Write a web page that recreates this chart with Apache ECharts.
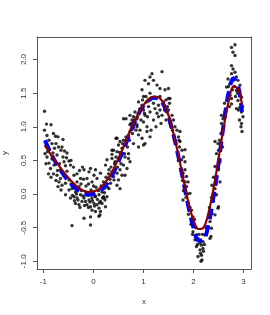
<!DOCTYPE html>
<html>
<head>
<meta charset="utf-8">
<script src="https://cdn.jsdelivr.net/npm/echarts@6/dist/echarts.min.js"></script>
<style>html,body{margin:0;padding:0;background:#fff;}#c{width:270px;height:315px;}</style>
</head>
<body>
<div id="c"></div>
<script>
// x / y tick positions
const xTicks = [-1, 0, 1, 2, 3];
const yTicks = [-1, -0.5, 0, 0.5, 1, 1.5, 2];

// curves: x grid, true function (blue dashed), fitted (dark red)
const curveX = [-0.97,-0.9,-0.8,-0.7,-0.6,-0.5,-0.4,-0.3,-0.2,-0.1,0,0.1,0.2,0.3,0.4,0.5,0.6,0.7,0.8,0.9,1.0,1.1,1.2,1.3,1.4,1.5,1.6,1.7,1.8,1.9,2.0,2.1,2.2,2.3,2.4,2.5,2.6,2.7,2.8,2.9,2.97];
const trueY = [0.80,0.68,0.53,0.40,0.29,0.19,0.11,0.05,0.01,-0.01,0.0,0.03,0.09,0.19,0.32,0.48,0.66,0.85,1.03,1.19,1.31,1.39,1.43,1.42,1.33,1.15,0.88,0.55,0.18,-0.19,-0.50,-0.69,-0.68,-0.45,-0.04,0.45,1.02,1.50,1.72,1.58,1.22];
const fitY  = [0.72,0.64,0.53,0.43,0.33,0.24,0.16,0.09,0.05,0.03,0.04,0.07,0.14,0.24,0.37,0.53,0.70,0.88,1.05,1.20,1.32,1.41,1.45,1.44,1.35,1.17,0.90,0.57,0.21,-0.13,-0.39,-0.52,-0.50,-0.28,0.08,0.52,0.98,1.37,1.60,1.55,1.32];

// observed points [x, y]
const points = [
[-0.98,1.23],[-0.94,1.04],[-0.85,1.03],[-0.98,0.95],[-0.93,0.87],[-0.76,0.86],[-0.71,0.85],[-0.61,0.81],[-0.89,0.80],[-0.83,0.75],
[-0.63,0.70],[-0.78,0.68],[-0.58,0.64],[-0.53,0.61],[-0.81,0.61],[-0.73,0.58],[-0.61,0.55],[0.37,0.65],[0.37,0.59],[0.45,0.83],
[-0.93,0.55],[-0.83,0.52],[-0.89,0.46],[-0.79,0.43],[-0.86,0.38],[-0.54,0.54],[-0.59,0.48],[-0.49,0.49],[-0.56,0.42],[-0.46,0.43],
[-0.66,0.36],[-0.53,0.34],[-0.73,0.28],[-0.66,0.23],[-0.59,0.27],[-0.69,0.18],[-0.63,0.13],[-0.71,0.11],[-0.56,0.16],[-0.49,0.21],
[-0.65,0.06],[-0.56,-0.01],[-0.49,0.06],[-0.46,-0.06],[-0.39,0.28],[-0.33,0.18],[-0.26,0.23],[-0.29,0.11],[-0.43,0.08],[-0.36,0.03],
[-0.19,0.36],[-0.09,0.33],[-0.06,0.38],[0.01,0.28],[0.07,0.23],[-0.13,0.23],[-0.03,0.18],[0.14,0.31],[0.04,0.36],
[-0.39,-0.04],[-0.33,-0.06],[-0.26,-0.01],[-0.19,-0.06],[-0.36,-0.14],[-0.29,-0.16],[-0.23,-0.11],[-0.16,-0.11],[-0.09,-0.09],[-0.03,-0.06],
[0.04,-0.04],[0.11,-0.01],[0.17,0.03],[0.21,0.08],[0.24,0.13],[-0.13,-0.16],[-0.06,-0.19],[0.01,-0.14],[0.07,-0.16],[0.14,-0.11],
[0.21,-0.06],[0.27,-0.04],[-0.03,-0.24],[0.04,-0.26],[0.11,-0.21],[0.24,-0.19],[0.14,-0.26],[-0.19,-0.36],[-0.06,-0.34],[-0.43,-0.47],
[-0.06,-0.46],[0.11,-0.33],[0.24,0.43],[0.31,0.36],[0.37,0.33],[0.27,0.51],[0.41,0.21],[0.34,0.16],[0.31,0.08],
[0.2,-0.04],[0.23,-0.09],[0.17,-0.14],[0.13,-0.31],[0.53,0.08],
[0.47,0.83],[0.53,0.78],[0.60,0.80],[0.50,0.73],[0.57,0.68],[0.40,0.65],[0.47,0.63],[0.63,0.73],[0.67,0.83],[0.70,0.88],
[0.73,0.93],[0.80,0.98],[0.87,1.0],[0.93,0.95],[0.90,0.88],[0.97,0.83],[1.0,0.73],[1.03,0.75],[1.07,0.93],[1.13,0.85],
[0.37,0.53],[0.43,0.48],[0.50,0.53],[0.57,0.58],[0.63,0.55],[0.70,0.53],[0.73,0.48],[0.60,0.43],[0.67,0.38],[0.53,0.36],
[0.47,0.31],[0.40,0.26],[0.57,0.28],[0.63,0.28],[0.50,0.21],[0.47,0.13],
[0.60,1.12],[0.73,1.17],[0.77,1.10],[0.80,1.15],[0.83,1.22],[0.87,1.12],[0.90,1.20],[0.93,1.27],[0.97,1.32],[1.0,1.25],
[1.03,1.17],[1.07,1.37],[1.10,1.30],[1.13,1.22],[1.17,1.42],[1.20,1.35],[1.23,1.27],[1.27,1.20],[1.30,1.32],[1.33,1.25],
[1.37,1.17],[1.40,1.37],[1.43,1.30],[1.47,1.22],[1.50,1.42],[1.13,1.50],[1.0,1.45],[0.97,1.55],[1.03,1.69],[1.10,1.64],
[1.13,1.74],[1.17,1.79],[1.20,1.69],[1.27,1.62],[1.33,1.57],[1.37,1.82],[1.43,1.55],[1.50,1.57],[1.53,1.42],[1.33,1.45],
[0.90,1.37],[0.80,1.07],[0.73,1.03],[0.87,1.03],[1.0,1.07],[1.07,1.0],
[1.15,0.95],[1.25,1.0],[1.35,1.05],[1.45,1.1],[1.2,1.1],[1.3,1.15],
[1.50,1.25],[1.57,1.17],[1.60,1.10],[1.53,1.05],[1.63,1.0],[1.67,0.95],[1.70,0.85],[1.73,0.78],[1.72,0.70],[1.77,0.65],
[1.80,0.55],[1.83,0.48],[1.73,0.93],[1.71,0.80],[1.83,0.66],[1.76,0.51],[1.83,0.36],[1.79,0.31],[1.86,0.26],[1.83,0.18],
[1.89,0.18],[1.86,0.11],
[1.79,-0.09],[1.83,0.08],[1.93,0.01],[1.89,-0.16],[1.96,-0.24],[1.99,-0.34],[1.96,-0.41],[2.03,-0.49],[1.99,-0.56],[2.06,-0.61],
[2.09,-0.66],[2.03,-0.68],[2.13,-0.73],[2.16,-0.76],[2.19,-0.71],[2.06,-0.78],[2.13,-0.83],[2.19,-0.81],[2.16,-0.91],[2.09,-0.93],
[2.17,-0.98],[2.15,-1.0],[2.23,-0.61],[2.33,-0.66],[2.36,-0.51],[2.49,-0.21],[2.43,-0.31],[2.39,-0.11],[2.46,-0.01],[2.43,0.08],
[2.43,0.78],[2.49,0.75],[2.46,0.60],[2.53,0.51],[2.43,0.41],[2.49,0.38],[2.46,0.26],[2.53,0.18],
[2.56,1.17],[2.59,1.12],[2.56,1.05],[2.63,1.22],[2.96,1.22],[2.99,1.15],[2.96,1.05],[2.97,0.93],
[2.76,2.18],[2.83,2.22],[2.79,2.11],[2.83,2.06],[2.76,1.91],[2.79,1.86],[2.83,1.81],[2.76,1.79],[2.69,1.71],[2.79,1.71],
[2.86,1.74],[2.89,1.69],[2.73,1.64],[2.93,1.62],[2.66,1.59],[2.86,1.54],[2.73,1.47],[2.76,1.42],[2.89,1.39],[2.93,1.29],
[2.86,1.27],[2.76,1.34],[2.96,1.44],
[2.37,0.13],[2.40,0.01],[2.50,-0.19],[2.37,-0.29],[2.33,-0.41],[2.30,-0.49],[2.35,-0.63],[2.53,0.48],[2.50,0.36],
[-0.97,0.60],[-0.95,0.45],[-0.90,0.30],[-0.85,0.25],[-0.80,0.30],[-0.75,0.20],[-0.72,0.35],[-0.68,0.45],[-0.65,0.65],[-0.70,0.70],
[-0.75,0.75],[-0.80,0.90],[-0.95,0.72],[-0.88,0.66],[-0.92,0.63],
[-0.45,0.15],[-0.42,-0.02],[-0.38,-0.10],[-0.34,0.0],[-0.31,-0.09],[-0.27,-0.20],[-0.24,0.05],[-0.21,-0.03],[-0.18,-0.17],[-0.15,0.02],
[-0.12,-0.02],[-0.10,-0.20],[-0.07,-0.12],[-0.05,0.06],[-0.02,-0.10],[0.0,0.02],[0.02,-0.18],[0.05,0.10],[0.08,-0.08],[0.10,0.05],
[0.12,-0.13],[0.15,0.12],[0.18,-0.06],[0.20,0.18],[0.22,0.02],[0.25,0.25],[0.28,0.10],[0.30,0.30],[0.33,0.22],[-0.25,0.15],
[-0.20,0.22],[-0.15,0.12],[-0.10,0.15],[0.0,0.12],[0.03,-0.03],[-0.33,0.30],[-0.28,0.35],[-0.22,0.40],[-0.40,0.40],[-0.45,0.50],
[0.35,0.40],[0.38,0.30],[0.42,0.45],[0.45,0.55],[0.48,0.40],[0.52,0.62],[0.55,0.45],[0.58,0.75],[0.62,0.60],[0.65,0.85],
[0.68,0.70],[0.72,0.80],[0.75,1.05],[0.78,0.90],[0.82,1.10],[0.85,0.95],[0.88,1.15],[0.92,1.25],[0.95,1.10],[0.98,1.40],
[1.02,1.20],[1.05,1.45],[1.08,1.15],[0.65,1.12],[0.70,0.60],[0.80,0.75],[0.90,0.70],
[1.42,1.25],[1.45,1.40],[1.48,1.30],[1.52,1.35],[1.55,1.00],[1.58,0.95],[1.62,0.80],[1.65,0.75],[1.68,0.60],[1.70,0.50],
[1.75,0.35],[1.78,0.20],[1.80,0.05],[1.85,-0.05],[1.88,0.00],[1.90,-0.30],[1.93,-0.20],[1.95,-0.45],[1.98,-0.60],[2.00,-0.45],
[2.02,-0.38],[2.05,-0.50],[2.08,-0.75],[2.11,-0.60],[2.14,-0.88],[2.18,-0.60],[2.20,-0.85],[2.22,-0.75],[2.25,-0.50],[2.28,-0.55],
[2.30,-0.35],[2.32,-0.20],[2.36,-0.05],[2.40,0.25],[2.45,0.15],[2.50,0.65],[2.52,0.80],[2.55,0.90],[2.58,0.70],[2.60,1.00],
[2.62,1.35],[2.65,1.25],[2.68,1.45],[2.70,1.60],[2.72,1.30],[2.78,1.55],[2.82,1.60],[2.84,1.45],[2.88,1.50],[2.90,1.25],
[2.92,1.10],[2.95,1.00],[2.98,1.30]
];

const txt = '#333';
const boxColor = '#555';
const font = 'Liberation Sans, Arial, sans-serif';
const xMin = -1.13, xMax = 3.15, yMin = -1.115, yMax = 2.335;
const plainAxis = {axisLine: {show: true, onZero: false, lineStyle: {color: boxColor, width: 1}}, axisTick: {show: false}, axisLabel: {show: false}, splitLine: {show: false}};

const chart = echarts.init(document.getElementById('c'), null, {renderer: 'canvas'});
chart.setOption({
  animation: false,
  backgroundColor: '#fff',
  grid: {left: 37, right: 19, top: 37, bottom: 46, containLabel: false, outerBoundsMode: 'none'},
  xAxis: [{
    type: 'value', min: xMin, max: xMax, position: 'bottom',
    axisLine: {show: true, onZero: false, lineStyle: {color: boxColor, width: 1}}, splitLine: {show: false},
    axisTick: {show: true, length: 4, customValues: xTicks, lineStyle: {color: boxColor}},
    axisLabel: {customValues: xTicks, fontSize: 8, color: txt, fontFamily: font, margin: 9, formatter: v => String(v)},
    name: 'x', nameLocation: 'middle', nameGap: 29,
    nameTextStyle: {fontSize: 8, color: txt, fontFamily: font}
  }, Object.assign({type: 'value', min: xMin, max: xMax, position: 'top'}, plainAxis)],
  yAxis: [{
    type: 'value', min: yMin, max: yMax, position: 'left',
    axisLine: {show: true, onZero: false, lineStyle: {color: boxColor, width: 1}}, splitLine: {show: false},
    axisTick: {show: true, length: 4, customValues: yTicks, lineStyle: {color: boxColor}},
    axisLabel: {customValues: yTicks, fontSize: 8, color: txt, fontFamily: font, margin: 9, rotate: 90, formatter: v => v.toFixed(1)},
    name: 'y', nameLocation: 'middle', nameGap: 28,
    nameTextStyle: {fontSize: 8, color: txt, fontFamily: font}
  }, Object.assign({type: 'value', min: yMin, max: yMax, position: 'right'}, plainAxis)],
  series: [
    {type: 'scatter', data: points, symbol: 'circle', symbolSize: 3.4, itemStyle: {color: '#000'}, z: 2},
    {type: 'line', data: curveX.map((x, i) => [x, trueY[i]]), smooth: 0.35, showSymbol: false, z: 3,
     lineStyle: {color: '#0000FF', width: 4, type: [11, 6], cap: 'butt'}},
    {type: 'line', data: curveX.map((x, i) => [x, fitY[i]]), smooth: 0.35, showSymbol: false, z: 4,
     lineStyle: {color: '#8B0000', width: 2.2}}
  ]
});
</script>
</body>
</html>
